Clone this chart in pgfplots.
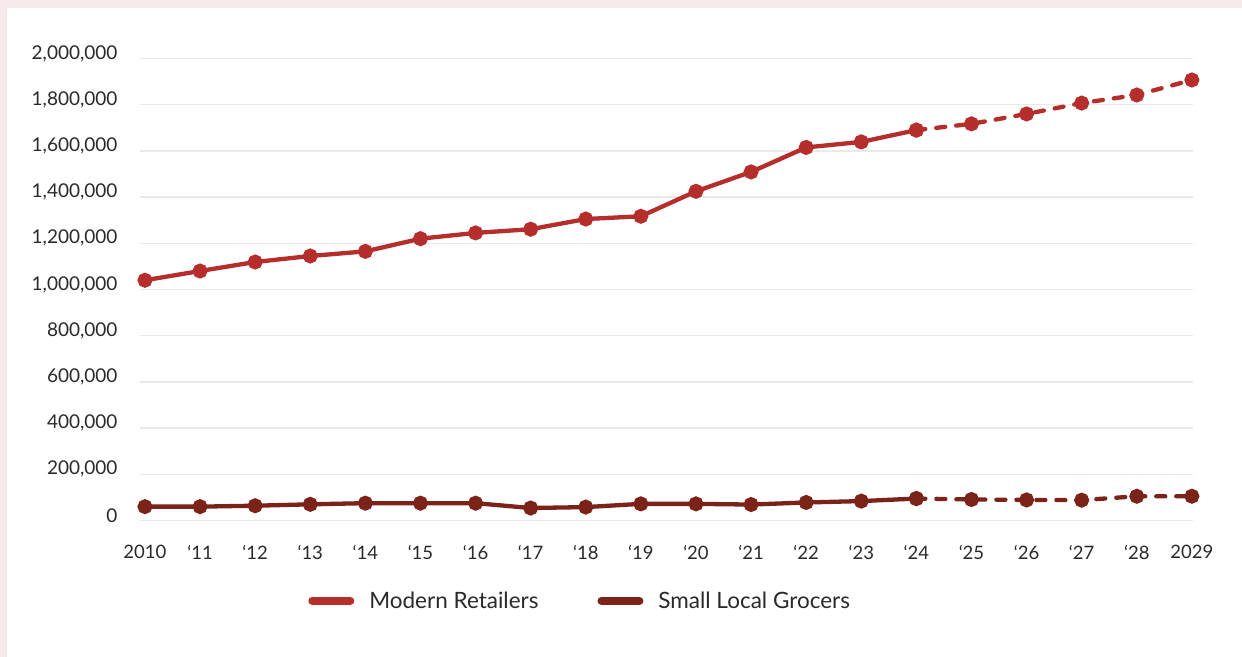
\documentclass[border=0pt]{standalone}
\usepackage{pgfplots}
\pgfplotsset{compat=1.18}
\usepackage{fontspec}
\setmainfont{Lato}
\definecolor{pinkbg}{RGB}{246,234,234}
\definecolor{modern}{RGB}{181,46,44}
\definecolor{grocer}{RGB}{123,35,24}
\definecolor{gridc}{RGB}{234,234,232}
\definecolor{txt}{RGB}{42,42,42}
\begin{document}
\begin{tikzpicture}
\fill[pinkbg] (0,0) rectangle (1242bp,657bp);
\fill[white] (7bp,0) rectangle (1242bp,649bp);
\begin{axis}[
  at={(140bp,136.5bp)}, anchor=south west,
  scale only axis, width=1053bp, height=462bp,
  xmin=-0.09, xmax=19.02, ymin=0, ymax=2000000,
  clip=false,
  axis line style={draw=none},
  major tick length=0pt,
  ymajorgrids, grid style={gridc, line width=1.5bp},
  ytick={0,200000,...,2000000},
  scaled y ticks=false,
  /pgf/number format/fixed,
  /pgf/number format/1000 sep={,},
  /pgf/number format/assume math mode=true,
  yticklabel style={font=\fontsize{19bp}{22bp}\selectfont, text=txt, xshift=-19bp, yshift=5bp},
  xtick={0,...,19},
  xticklabels={2010,‘11,‘12,‘13,‘14,‘15,‘16,‘17,‘18,‘19,‘20,‘21,‘22,‘23,‘24,‘25,‘26,‘27,‘28,2029},
  xticklabel style={font=\fontsize{18.5bp}{21bp}\selectfont, text=txt, yshift=-21bp},
  legend columns=2,
  legend style={at={(0.418,-0.174)}, anchor=center, draw=none, fill=none,
    font=\fontsize{22.5bp}{26bp}\selectfont, text=txt,
    /tikz/every odd column/.append style={column sep=13bp},
    /tikz/every even column/.append style={column sep=57bp}},
  legend image code/.code={\draw[line width=8bp, line cap=round, #1] (4bp,0bp) -- (42bp,0bp);},
]
\addlegendimage{modern}
\addlegendentry{Modern Retailers}
\addlegendimage{grocer}
\addlegendentry{Small Local Grocers}

\addplot[forget plot, modern, line width=4.3bp, mark=*, mark size=5.3bp, mark options={solid, fill=modern, draw=modern}] coordinates {
(0,1040000) (1,1080000) (2,1119000) (3,1145000) (4,1165000) (5,1220000) (6,1245000) (7,1261000) (8,1305000) (9,1317000) (10,1425000) (11,1509000) (12,1615000) (13,1639000) (14,1690000)};
\addplot[forget plot, modern, line width=4.3bp, line cap=round, dash pattern=on 9bp off 11bp, mark=*, mark size=5.3bp, mark options={solid, fill=modern, draw=modern}] coordinates {
(14,1690000) (15,1717000) (16,1760000) (17,1807000) (18,1842000) (19,1907000)};

\addplot[forget plot, grocer, line width=4.3bp, mark=*, mark size=5.3bp, mark options={solid, fill=grocer, draw=grocer}] coordinates {
(0,60000) (1,60000) (2,64000) (3,70000) (4,75000) (5,75000) (6,75000) (7,54000) (8,58000) (9,72000) (10,72000) (11,69000) (12,78000) (13,84000) (14,95000)};
\addplot[forget plot, grocer, line width=4.3bp, line cap=round, dash pattern=on 9bp off 11bp, mark=*, mark size=5.3bp, mark options={solid, fill=grocer, draw=grocer}] coordinates {
(14,95000) (15,91000) (16,89000) (17,88000) (18,105000) (19,105000)};
\end{axis}
\pgfresetboundingbox
\path (0,0) rectangle (1242bp,657bp);
\end{tikzpicture}
\end{document}
